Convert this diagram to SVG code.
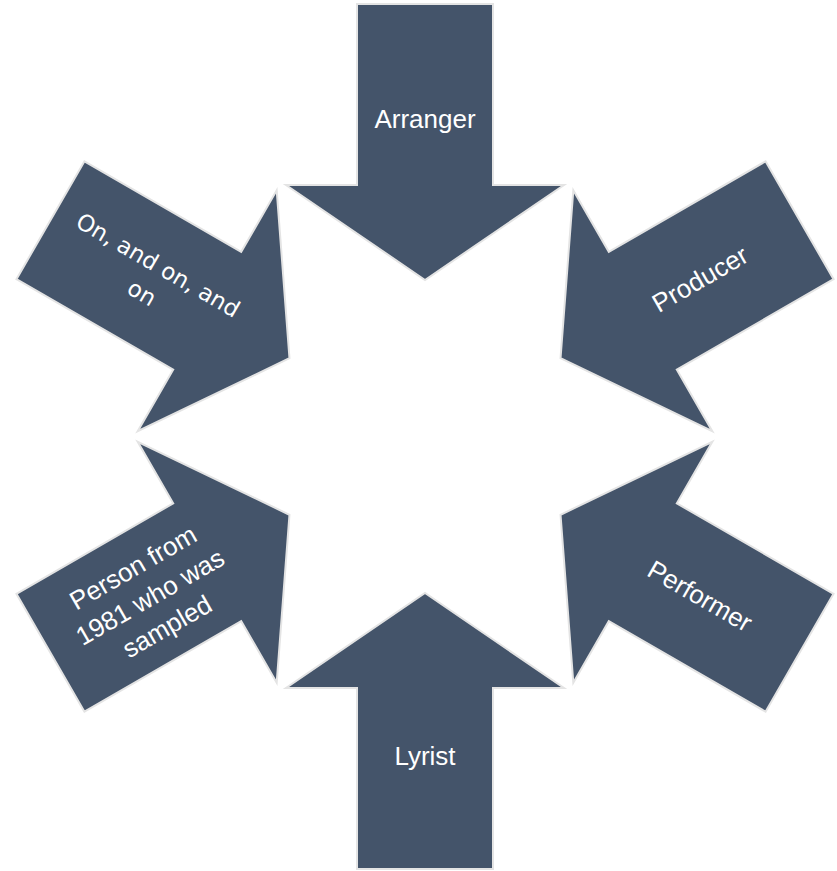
<svg xmlns="http://www.w3.org/2000/svg" width="837" height="871" viewBox="0 0 837 871">
  <style>
    .arrow { fill: #44546A; stroke: #E4E4E4; stroke-width: 2; stroke-linejoin: miter; }
    .lbl { fill: #FFFFFF; font-family: "Liberation Sans", Arial, sans-serif; font-size: 26px; text-anchor: middle; }
    .lbl2 { fill: #FFFFFF; font-family: "DejaVu Sans", sans-serif; font-size: 23px; text-anchor: middle; }
  </style>
  <defs>
    <path id="arr" d="M -68,-432.5 L 68,-432.5 L 68,-251.5 L 139,-251.5 L 0,-156.5 L -139,-251.5 L -68,-251.5 Z"/>
  </defs>
  <g id="connectors"/>
  <g id="arranger">
    <use href="#arr" class="arrow" transform="translate(425,436.5)"/>
    <text class="lbl" x="425" y="128">Arranger</text>
  </g>
  <g id="producer">
    <use href="#arr" class="arrow" transform="translate(425,436.5) rotate(60)"/>
    <g transform="translate(700,279) rotate(-30)">
      <text class="lbl" x="0" y="9">Producer</text>
    </g>
  </g>
  <g id="performer">
    <use href="#arr" class="arrow" transform="translate(425,436.5) rotate(120)"/>
    <g transform="translate(700,596) rotate(30)">
      <text class="lbl" x="0" y="9">Performer</text>
    </g>
  </g>
  <g id="lyrist">
    <use href="#arr" class="arrow" transform="translate(425,436.5) rotate(180)"/>
    <text class="lbl" x="425" y="765">Lyrist</text>
  </g>
  <g id="person1981">
    <use href="#arr" class="arrow" transform="translate(425,436.5) rotate(240)"/>
    <g transform="translate(150,597) rotate(-30)">
      <text class="lbl" x="0" y="-25">Person from</text>
      <text class="lbl" x="0" y="9">1981 who was</text>
      <text class="lbl" x="0" y="43">sampled</text>
    </g>
  </g>
  <g id="onandon">
    <use href="#arr" class="arrow" transform="translate(425,436.5) rotate(300)"/>
    <g transform="translate(150,279) rotate(30)">
      <text class="lbl2" x="0" y="-8">On, and on, and</text>
      <text class="lbl2" x="0" y="24">on</text>
    </g>
  </g>
</svg>
